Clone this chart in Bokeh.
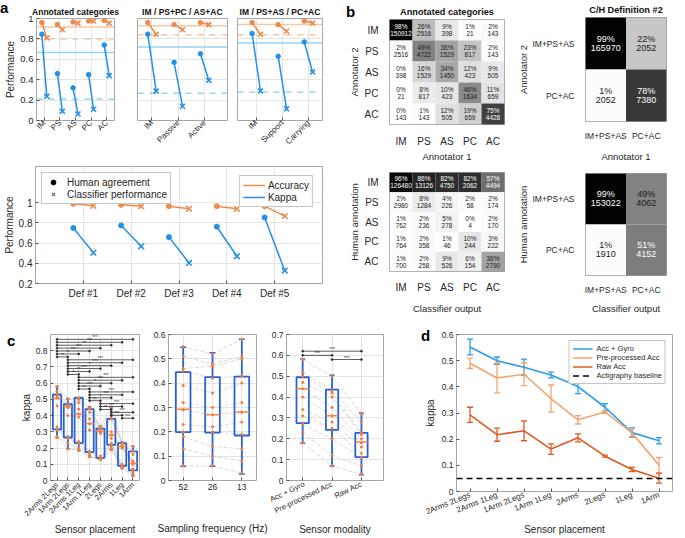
import numpy as np
from bokeh.plotting import figure
from bokeh.models import (Range1d, FactorRange, FixedTicker, Span, Legend, LegendItem,
                          ColumnDataSource, Whisker, TeeHead, InlineStyleSheet)
from bokeh.layouts import row, column
from bokeh.embed import file_html
from bokeh.resources import INLINE
from bokeh.core.properties import value

FONT = "Liberation Sans"
TXT = "#262626"
ORANGE = "#EE8A4B"; BLUE = "#2490E3"; ORANGE_L = "#F8C7A3"; BLUE_L = "#93D5F5"
BOX = "#2A62D3"; MED = "#F08A4B"; DOT = "#F0803C"; SUBJ = "#CFCFCF"
D_BLUE = "#2A9DF0"; D_LORANGE = "#F4A46E"; D_RED = "#E0581F"

# ---------------- panel a data ----------------
perf_ticks = [0, 0.2, 0.4, 0.6, 0.8, 1.0]
perf_labels = ["0", "0.2", "0.4", "0.6", "0.8", "1"]

a1_title = "Annotated categories"
a1_cats = ["IM", "PS", "AS", "PC", "AC"]
a1_acc_h = [0.96, 0.94, 0.965, 0.975, 0.98]
a1_acc_c = [0.81, 0.89, 0.955, 0.975, 0.955]
a1_kap_h = [0.846, 0.46, 0.32, 0.45, 0.74]
a1_kap_c = [0.237, 0.09, 0.064, 0.11, 0.44]
a1_ref = [0.917, 0.80, 0.667, 0.21]   # acc human, acc classifier, kappa human, kappa classifier

a2_title = "IM / PS+PC / AS+AC"
a2_cats = ["IM", "Passive", "Active"]
a2_acc_h = [0.96, 0.94, 0.96]
a2_acc_c = [0.846, 0.89, 0.94]
a2_kap_h = [0.846, 0.57, 0.654]
a2_kap_c = [0.288, 0.14, 0.394]
a2_ref = [0.93, 0.84, 0.72, 0.266]

a3_title = "IM / PS+AS / PC+AC"
a3_cats = ["IM", "Support", "Carrying"]
a3_acc_h = [0.96, 0.94, 0.975]
a3_acc_c = [0.846, 0.875, 0.955]
a3_kap_h = [0.853, 0.63, 0.77]
a3_kap_c = [0.29, 0.115, 0.475]
a3_ref = [0.94, 0.84, 0.76, 0.276]

defs = ["Def #1", "Def #2", "Def #3", "Def #4", "Def #5"]
def_acc_h = [0.99, 0.98, 0.967, 0.967, 0.967]
def_acc_c = [0.97, 0.967, 0.94, 0.94, 0.868]
def_kap_h = [0.75, 0.776, 0.66, 0.763, 0.855]
def_kap_c = [0.506, 0.569, 0.404, 0.47, 0.328]
def_ticks = [0.2, 0.4, 0.6, 0.8, 1.0]
def_tick_labels = ["0.2", "0.4", "0.6", "0.8", "1"]

# ---------------- panel b data ----------------
b1_title = "Annotated categories"
b_cats = ["IM", "PS", "AS", "PC", "AC"]
b1_pct = [[98, 26, 9, 1, 2], [2, 49, 36, 23, 2], [0, 16, 34, 12, 9], [0, 8, 10, 46, 11], [0, 1, 12, 19, 75]]
b1_cnt = [[150912, 2516, 398, 21, 143], [2516, 4722, 1529, 817, 143], [398, 1529, 1450, 423, 505],
          [21, 817, 423, 1634, 659], [143, 143, 505, 659, 4428]]
b2_pct = [[96, 86, 82, 82, 57], [2, 8, 4, 2, 2], [1, 2, 5, 0, 2], [1, 2, 1, 10, 3], [1, 2, 9, 6, 36]]
b2_cnt = [[126480, 13126, 4750, 2062, 4494], [2980, 1284, 226, 58, 174], [762, 236, 278, 4, 170],
          [764, 358, 46, 244, 222], [700, 258, 526, 154, 2790]]
b3_title = "C/H Definition #2"
b2_cats = ["IM+PS+AS", "PC+AC"]
b3_pct = [[99, 22], [1, 78]]
b3_cnt = [[165970, 2052], [2052, 7380]]
b4_pct = [[99, 49], [1, 51]]
b4_cnt = [[153022, 4062], [1910, 4152]]

# ---------------- panel c data ----------------
c1_cats = ["2Arms 2Legs", "1Arm 2Legs", "2Arms 1Leg", "1Arm 1Leg", "2Legs", "2Arms", "1Leg", "1Arm"]
c1_wlo = [0.265, 0.195, 0.185, 0.145, 0.13, 0.19, 0.075, 0.03]
c1_q1 = [0.315, 0.265, 0.23, 0.175, 0.14, 0.22, 0.09, 0.062]
c1_med = [0.505, 0.455, 0.41, 0.35, 0.305, 0.28, 0.21, 0.107]
c1_q3 = [0.53, 0.47, 0.51, 0.44, 0.32, 0.38, 0.23, 0.18]
c1_whi = [0.58, 0.505, 0.51, 0.455, 0.335, 0.45, 0.237, 0.21]
c1_subjects = [
    [0.58, 0.50, 0.51, 0.45, 0.33, 0.45, 0.23, 0.21],
    [0.55, 0.47, 0.50, 0.44, 0.32, 0.40, 0.23, 0.18],
    [0.53, 0.46, 0.48, 0.42, 0.31, 0.38, 0.22, 0.16],
    [0.52, 0.46, 0.44, 0.38, 0.31, 0.30, 0.21, 0.12],
    [0.51, 0.45, 0.41, 0.35, 0.30, 0.28, 0.21, 0.11],
    [0.46, 0.40, 0.39, 0.31, 0.29, 0.26, 0.20, 0.10],
    [0.33, 0.27, 0.24, 0.18, 0.15, 0.23, 0.10, 0.07],
    [0.31, 0.26, 0.23, 0.17, 0.14, 0.22, 0.09, 0.06],
    [0.27, 0.23, 0.20, 0.15, 0.13, 0.20, 0.08, 0.04],
    [0.265, 0.195, 0.185, 0.145, 0.13, 0.19, 0.075, 0.03],
]
c1_sig = [(1, 8, "***"), (1, 7, "***"), (1, 6, "**"), (1, 5, "***"), (1, 4, "***"), (1, 3, "**"), (1, 2, "**"),
          (2, 8, "***"), (2, 7, "***"), (2, 6, "*"), (2, 5, "***"), (2, 4, "**"), (2, 3, "*"),
          (3, 8, "***"), (3, 7, "***"), (3, 6, "*"), (3, 5, "***"), (3, 4, "**"),
          (4, 8, "***"), (4, 7, "***"), (4, 6, "*"), (4, 5, "**"),
          (5, 8, "***"), (5, 7, "***"), (5, 6, "**"),
          (6, 8, "***"), (6, 7, "***"),
          (7, 8, "***")]
c1_ticks = [0, 0.1, 0.2, 0.3, 0.4, 0.5, 0.6, 0.7, 0.8]
c1_tick_labels = ["0", "0.1", "0.2", "0.3", "0.4", "0.5", "0.6", "0.7", "0.8"]

c2_cats = ["52", "26", "13"]
c2_wlo = [0.059, 0.059, 0.027]
c2_q1 = [0.199, 0.197, 0.185]
c2_med = [0.293, 0.27, 0.281]
c2_q3 = [0.445, 0.425, 0.427]
c2_whi = [0.548, 0.525, 0.58]
c2_subjects = [
    [0.55, 0.52, 0.58], [0.51, 0.48, 0.51], [0.46, 0.47, 0.50], [0.45, 0.42, 0.43],
    [0.39, 0.36, 0.40], [0.32, 0.30, 0.32], [0.29, 0.27, 0.28], [0.23, 0.22, 0.24],
    [0.20, 0.20, 0.19], [0.18, 0.14, 0.13], [0.13, 0.10, 0.08], [0.06, 0.06, 0.03],
]
c2_ticks = [0, 0.1, 0.2, 0.3, 0.4, 0.5, 0.6]
c2_tick_labels = ["0", "0.1", "0.2", "0.3", "0.4", "0.5", "0.6"]

c3_cats = ["Acc + Gyro", "Pre-processed Acc", "Raw Acc"]
c3_wlo = [0.18, 0.069, 0.027]
c3_q1 = [0.275, 0.243, 0.112]
c3_med = [0.44, 0.31, 0.184]
c3_q3 = [0.495, 0.436, 0.228]
c3_whi = [0.583, 0.505, 0.323]
c3_subjects = [
    [0.58, 0.50, 0.32], [0.52, 0.43, 0.28], [0.50, 0.42, 0.23], [0.47, 0.40, 0.22],
    [0.44, 0.35, 0.20], [0.40, 0.31, 0.18], [0.34, 0.28, 0.16], [0.31, 0.25, 0.13],
    [0.27, 0.20, 0.11], [0.23, 0.12, 0.07], [0.18, 0.07, 0.03],
]
c3_sig = [(1, 3, "***"), (1, 2, "***"), (2, 3, "***")]
c3_ticks = [0, 0.1, 0.2, 0.3, 0.4, 0.5, 0.6, 0.7]
c3_tick_labels = ["0", "0.1", "0.2", "0.3", "0.4", "0.5", "0.6", "0.7"]

# ---------------- panel d data ----------------
d_cats = ["2Arms 2Legs", "2Arms 1Leg", "1Arm 2Legs", "1Arm 1Leg", "2Arms", "2Legs", "1Leg", "1Arm"]
d_gyro = [0.552, 0.50, 0.475, 0.445, 0.401, 0.322, 0.225, 0.194]
d_gyro_err = [0.03, 0.014, 0.031, 0.011, 0.027, 0.014, 0.018, 0.012]
d_pre = [0.49, 0.434, 0.448, 0.355, 0.274, 0.304, 0.224, 0.10]
d_pre_err = [0.02, 0.057, 0.043, 0.052, 0.016, 0.006, 0.015, 0.03]
d_raw = [0.293, 0.217, 0.232, 0.162, 0.205, 0.135, 0.084, 0.051]
d_raw_err = [0.029, 0.025, 0.038, 0.02, 0.015, 0.004, 0.008, 0.019]
d_baseline = 0.05
d_ticks = [0, 0.1, 0.2, 0.3, 0.4, 0.5, 0.6]
d_tick_labels = ["0", "0.1", "0.2", "0.3", "0.4", "0.5", "0.6"]

NAN = np.array([np.nan])


# ---------------- helpers ----------------
def mfig(w, h, l, r, t, b, xr, yr, title=None, fs="9px"):
    p = figure(width=w, height=h, x_range=xr, y_range=yr, output_backend="svg",
               toolbar_location=None, min_border_left=l, min_border_right=r,
               min_border_top=t, min_border_bottom=b, title=title)
    p.outline_line_color = "#A6A6A6"
    p.border_fill_color = "white"
    p.background_fill_color = "white"
    p.grid.grid_line_color = "#E4E4E4"
    for ax in p.axis:
        ax.axis_line_color = None
        ax.major_tick_in = 3
        ax.major_tick_out = 0
        ax.minor_tick_line_color = None
        ax.major_tick_line_color = "#555555"
        ax.major_label_text_font = FONT
        ax.major_label_text_font_size = fs
        ax.major_label_text_color = TXT
        ax.axis_label_text_font = FONT
        ax.axis_label_text_font_style = "normal"
        ax.axis_label_text_font_size = "10px"
        ax.axis_label_text_color = TXT
        ax.major_label_standoff = 3
        ax.axis_label_standoff = 2
    if title:
        p.title.text_font = FONT
        p.title.text_font_style = "bold"
        p.title.text_font_size = "8.5px"
        p.title.text_color = "#111111"
        p.title.align = "center"
        p.title.standoff = 3
    return p


def set_ticks(p, dim, ticks, labels=None):
    t = FixedTicker(ticks=list(ticks))
    ax = p.xaxis if dim == "x" else p.yaxis
    gr = p.xgrid if dim == "x" else p.ygrid
    ax.ticker = t
    gr.ticker = t
    if labels is not None:
        ax.major_label_overrides = {float(k): v for k, v in zip(ticks, labels)}


def letter(p, txt, left, top):
    # bold panel letter in the figure's top-left border area
    css = (':host { position: relative; } '
           ':host::after { content: "%s"; position: absolute; left: %dpx; top: %dpx; '
           'font: bold 15px "Liberation Sans", Arial, sans-serif; line-height: 1; color: #000; '
           'z-index: 20; pointer-events: none; }' % (txt, left, top))
    p.stylesheets = list(p.stylesheets) + [InlineStyleSheet(css=css)]


def perf_marks(p, n, acc_h, acc_c, kap_h, kap_c, off, xs=7, ds=4.5):
    x = np.arange(1, n + 1, dtype=float)
    for yh, yc, col in ((acc_h, acc_c, ORANGE), (kap_h, kap_c, BLUE)):
        src = ColumnDataSource(dict(xh=x - off, xc=x + off, yh=yh, yc=yc))
        p.segment("xh", "yh", "xc", "yc", source=src, line_color=col, line_width=1.5)
        p.scatter("xh", "yh", source=src, marker="circle", size=ds, fill_color=col, line_color=col)
        p.scatter("xc", "yc", source=src, marker="x", size=xs, line_color=col, line_width=1.6)


def ref_lines(p, ref):
    for v, col, dash in zip(ref, [ORANGE_L, ORANGE_L, BLUE_L, BLUE_L],
                            ["solid", "dashed", "solid", "dashed"]):
        p.add_layout(Span(location=v, dimension="width", line_color=col, line_width=1.5,
                          line_dash=dash, level="underlay"))


def top_panel(w, l, r, xr, cats, acc_h, acc_c, kap_h, kap_c, ref, title, show_y):
    p = mfig(w, 152, l, r, 18, 30, xr, Range1d(0, 1), title=title, fs="9.5px")
    set_ticks(p, "x", range(1, len(cats) + 1), cats)
    set_ticks(p, "y", perf_ticks, perf_labels)
    p.xaxis.major_label_orientation = np.pi / 4
    p.xaxis.major_label_text_font_size = "8px"
    p.xaxis.major_label_standoff = 1
    if show_y:
        p.yaxis.axis_label = "Performance"
        p.yaxis.axis_label_standoff = 1
    else:
        p.yaxis.visible = False
    ref_lines(p, ref)
    perf_marks(p, len(cats), acc_h, acc_c, kap_h, kap_c, 0.16)
    return p


# ---------------- panel a ----------------
a1 = top_panel(128, 36, 14, Range1d(0.5, 5.5), a1_cats, a1_acc_h, a1_acc_c, a1_kap_h, a1_kap_c,
               a1_ref, a1_title, True)
a2 = top_panel(102, 9, 3, Range1d(0.45, 3.87), a2_cats, a2_acc_h, a2_acc_c, a2_kap_h, a2_kap_c,
               a2_ref, a2_title, False)
a3 = top_panel(115, 7, 23, Range1d(0.28, 3.54), a3_cats, a3_acc_h, a3_acc_c, a3_kap_h, a3_kap_c,
               a3_ref, a3_title, False)
letter(a1, "a", 0, 0)

ab = mfig(345, 164, 35, 23, 14, 33, Range1d(0, 6), Range1d(0.2, 1.36), fs="10px")
set_ticks(ab, "x", range(1, len(defs) + 1), defs)
set_ticks(ab, "y", def_ticks, def_tick_labels)
ab.yaxis.axis_label = "Performance"
ab.yaxis.axis_label_standoff = 1
ab.xaxis.major_label_standoff = 4
perf_marks(ab, len(defs), def_acc_h, def_acc_c, def_kap_h, def_kap_c, 0.21, xs=8, ds=5)
rh = ab.scatter(x=NAN, y=NAN, marker="circle", size=5, fill_color="black", line_color="black")
rc = ab.scatter(x=NAN, y=NAN, marker="x", size=7, line_color="#6E6E6E", line_width=1.2)
ra = ab.line(x=NAN, y=NAN, line_color=ORANGE, line_width=1.5)
rk = ab.line(x=NAN, y=NAN, line_color=BLUE, line_width=1.5)


def style_legend(lg, fs, gw=18, lh=12):
    lg.label_text_font = FONT
    lg.label_text_font_size = fs
    lg.label_text_color = TXT
    lg.border_line_color = "#8C8C8C"
    lg.border_line_width = 1
    lg.background_fill_alpha = 1
    lg.padding = 3
    lg.spacing = 0
    lg.margin = 5
    lg.glyph_width = gw
    lg.glyph_height = lh
    lg.label_height = lh
    lg.label_standoff = 6


lg1 = Legend(items=[LegendItem(label="Human agreement", renderers=[rh]),
                    LegendItem(label="Classifier performance", renderers=[rc])], location="top_left")
lg2 = Legend(items=[LegendItem(label="Accuracy", renderers=[ra]),
                    LegendItem(label="Kappa", renderers=[rk])], location="top_right")
style_legend(lg1, "10px", gw=16)
style_legend(lg2, "10px", gw=22)
lg2.label_standoff = 3
lg1.margin = 6
lg2.margin = 9
ab.add_layout(lg1)
ab.add_layout(lg2)


# ---------------- panel b ----------------
def conf(w, h, l, r, t, b, cats, pct, cnt, xlabel, ylabel, lab_fs, cell_fs,
         xs_lab, xs_ax, ys_lab, ys_ax, title=None, title_standoff=3):
    p = figure(width=w, height=h, x_range=FactorRange(*cats), y_range=FactorRange(*cats[::-1]),
               output_backend="svg", toolbar_location=None, min_border_left=l, min_border_right=r,
               min_border_top=t, min_border_bottom=b, title=title)
    xs, ys, ptxt, ctxt, fills, tcol = [], [], [], [], [], []
    for i, rn in enumerate(cats):
        for j, cn in enumerate(cats):
            v = pct[i][j]
            g = int(round(255 * (1 - v / 100.0)))
            xs.append(cn); ys.append(rn)
            ptxt.append(f"{v}%"); ctxt.append(str(cnt[i][j]))
            fills.append("#%02x%02x%02x" % (g, g, g))
            tcol.append("white" if v > 50 else "#1A1A1A")
    src = ColumnDataSource(dict(x=xs, y=ys, p=ptxt, c=ctxt, fill=fills, tc=tcol))
    p.rect("x", "y", 1, 1, source=src, fill_color="fill", line_color=None)
    p.text("x", "y", text="p", source=src, text_color="tc", text_align="center",
           text_baseline="bottom", y_offset=0, text_font=value(FONT), text_font_size=cell_fs)
    p.text("x", "y", text="c", source=src, text_color="tc", text_align="center",
           text_baseline="top", y_offset=1, text_font=value(FONT), text_font_size=cell_fs)
    p.grid.visible = False
    p.outline_line_color = "#9A9A9A"
    p.border_fill_color = "white"
    for ax in p.axis:
        ax.axis_line_color = None
        ax.major_tick_line_color = None
        ax.minor_tick_line_color = None
        ax.major_label_text_font = FONT
        ax.major_label_text_font_size = lab_fs
        ax.major_label_text_color = TXT
        ax.axis_label_text_font = FONT
        ax.axis_label_text_font_style = "normal"
        ax.axis_label_text_font_size = "9.5px"
        ax.axis_label_text_color = TXT
    p.xaxis.axis_label = xlabel
    p.yaxis.axis_label = ylabel
    p.xaxis.major_label_standoff = xs_lab
    p.xaxis.axis_label_standoff = xs_ax
    p.yaxis.major_label_standoff = ys_lab
    p.yaxis.axis_label_standoff = ys_ax
    if title:
        p.title.text_font = FONT
        p.title.text_font_style = "bold"
        p.title.text_font_size = "9.2px"
        p.title.text_color = "#111111"
        p.title.align = "center"
        p.title.standoff = title_standoff
    return p


b1 = conf(170, 164, 33, 11, 19, 28, b_cats, b1_pct, b1_cnt, "Annotator 1", "Annotator 2",
          "10px", "6.5px", 5, 1, 5, 2, title=b1_title, title_standoff=6)
b2 = conf(170, 152, 33, 11, 8, 35, b_cats, b2_pct, b2_cnt, "Classifier output", "Human annotation",
          "10px", "6.5px", 4, 7, 5, 2)
b3 = conf(170, 164, 59, 19, 17, 34, b2_cats, b3_pct, b3_cnt, "Annotator 1", "Annotator 2",
          "8.5px", "9px", 3, 7, 5, 0, title=b3_title, title_standoff=5)
b4 = conf(170, 152, 59, 19, 9, 30, b2_cats, b4_pct, b4_cnt, "Classifier output", "Human annotation",
          "8.5px", "9px", 3, 5, 5, 0)
letter(b1, "b", 1, 4)


# ---------------- panel c ----------------
def box_panel(p, n, wlo, q1, med, q3, whi, subjects, bw, dash):
    x = np.arange(1, n + 1, dtype=float)
    sx = [list(x) for _ in subjects]
    p.multi_line(xs=sx, ys=subjects, line_color=SUBJ, line_width=0.8, line_dash=dash)
    src = ColumnDataSource(dict(x=x, l=x - bw / 2, r=x + bw / 2, cl=x - bw / 5, cr=x + bw / 5,
                                wlo=wlo, q1=q1, med=med, q3=q3, whi=whi))
    p.segment("x", "q3", "x", "whi", source=src, line_color=BOX, line_width=1.8)
    p.segment("x", "q1", "x", "wlo", source=src, line_color=BOX, line_width=1.8)
    p.segment("cl", "whi", "cr", "whi", source=src, line_color=BOX, line_width=1.5)
    p.segment("cl", "wlo", "cr", "wlo", source=src, line_color=BOX, line_width=1.5)
    p.quad(left="l", right="r", bottom="q1", top="q3", source=src, fill_color=None,
           line_color=BOX, line_width=1.8)
    p.segment("l", "med", "r", "med", source=src, line_color=MED, line_width=1.5)
    px = [xi for s in subjects for xi in x]
    py = [v for s in subjects for v in s]
    p.scatter(px, py, marker="circle", size=2.2, fill_color=DOT, line_color=DOT)


def sig_bars(p, sig, ytop, step, fs):
    x0 = [float(s[0]) for s in sig]
    x1 = [float(s[1]) for s in sig]
    y = [ytop - k * step for k in range(len(sig))]
    mid = [(a + b) / 2 for a, b in zip(x0, x1)]
    txt = [s[2] for s in sig]
    src = ColumnDataSource(dict(x0=x0, x1=x1, y=y, mid=mid, t=txt))
    p.segment("x0", "y", "x1", "y", source=src, line_color="#333333", line_width=0.8)
    p.scatter("x0", "y", source=src, size=1.8, color="#333333")
    p.scatter("x1", "y", source=src, size=1.8, color="#333333")
    p.text("mid", "y", text="t", source=src, text_align="center", text_baseline="bottom",
           text_font=value(FONT), text_font_size=fs, text_color="#333333", y_offset=1)


c1 = mfig(148, 222, 50, 9, 18, 58, Range1d(0.4, 8.6), Range1d(0, 0.9), fs="8.5px")
set_ticks(c1, "x", range(1, len(c1_cats) + 1), c1_cats)
set_ticks(c1, "y", c1_ticks, c1_tick_labels)
c1.xaxis.major_label_orientation = np.pi / 4
c1.xaxis.major_label_text_font_size = "7.5px"
c1.xaxis.axis_label = "Sensor placement"
c1.xaxis.axis_label_standoff = 0
c1.yaxis.axis_label = "kappa"
c1.yaxis.axis_label_standoff = 1
box_panel(c1, len(c1_cats), c1_wlo, c1_q1, c1_med, c1_q3, c1_whi, c1_subjects, 0.76, "solid")
sig_bars(c1, c1_sig, 0.87, 0.018, "4.5px")
letter(c1, "c", 7, 17)

c2 = mfig(120, 222, 20, 12, 18, 58, Range1d(0.5, 3.5), Range1d(0, 0.6), fs="8.5px")
set_ticks(c2, "x", range(1, len(c2_cats) + 1), c2_cats)
set_ticks(c2, "y", c2_ticks, c2_tick_labels)
c2.xaxis.axis_label = "Sampling frequency (Hz)"
c2.xaxis.axis_label_standoff = 30
box_panel(c2, len(c2_cats), c2_wlo, c2_q1, c2_med, c2_q3, c2_whi, c2_subjects, 0.5, "4 2")

c3 = mfig(152, 222, 17, 37, 18, 58, Range1d(0.45, 3.75), Range1d(0, 0.7), fs="8.5px")
set_ticks(c3, "x", range(1, len(c3_cats) + 1), c3_cats)
set_ticks(c3, "y", c3_ticks, c3_tick_labels)
c3.xaxis.major_label_orientation = 0.45
c3.xaxis.major_label_text_font_size = "7.5px"
c3.xaxis.axis_label = "Sensor modality"
c3.xaxis.axis_label_standoff = 2
box_panel(c3, len(c3_cats), c3_wlo, c3_q1, c3_med, c3_q3, c3_whi, c3_subjects, 0.42, "4 2")
sig_bars(c3, c3_sig, 0.62, 0.02, "5px")

# ---------------- panel d ----------------
d = mfig(265, 222, 36, 13, 18, 47, Range1d(0.5, 8.5), Range1d(0, 0.6), fs="8.5px")
d.grid.visible = False
set_ticks(d, "x", range(1, len(d_cats) + 1), d_cats)
set_ticks(d, "y", d_ticks, d_tick_labels)
d.xaxis.major_label_orientation = 0.38
d.xaxis.major_label_text_font_size = "8px"
d.xaxis.axis_label = "Sensor placement"
d.xaxis.axis_label_standoff = 1
d.yaxis.axis_label = "kappa"
d.yaxis.axis_label_standoff = 3
d.add_layout(Span(location=d_baseline, dimension="width", line_color="black", line_width=1.5,
                  line_dash="6 4"))
dx = np.arange(1, len(d_cats) + 1, dtype=float)
d_items = []
for vals, err, col, name in ((d_gyro, d_gyro_err, D_BLUE, "Acc + Gyro"),
                             (d_pre, d_pre_err, D_LORANGE, "Pre-processed Acc"),
                             (d_raw, d_raw_err, D_RED, "Raw Acc")):
    v = np.array(vals); e = np.array(err)
    src = ColumnDataSource(dict(x=dx, y=v, up=v + e, lo=v - e))
    d.add_layout(Whisker(source=src, base="x", upper="up", lower="lo", line_color=col, line_width=1.3,
                         upper_head=TeeHead(size=6, line_color=col, line_width=1.3),
                         lower_head=TeeHead(size=6, line_color=col, line_width=1.3)))
    rl = d.line("x", "y", source=src, line_color=col, line_width=1.6)
    d_items.append(LegendItem(label=name, renderers=[rl]))
rb = d.line(x=NAN, y=NAN, line_color="black", line_width=1.5, line_dash="6 4")
d_items.append(LegendItem(label="Actigraphy baseline", renderers=[rb]))
lgd = Legend(items=d_items, location="top_right")
style_legend(lgd, "7.5px", gw=20, lh=9)
lgd.label_standoff = 4
lgd.margin = 6
d.add_layout(lgd)
letter(d, "d", 1, 12)

# ---------------- layout ----------------
row1 = row(column(row(a1, a2, a3), ab), column(b1, b2), column(b3, b4))
row2 = row(row(c1, c2, c3), column(d))
layout = column(row1, row2)

open("out.html", "w").write(file_html(layout, INLINE))
